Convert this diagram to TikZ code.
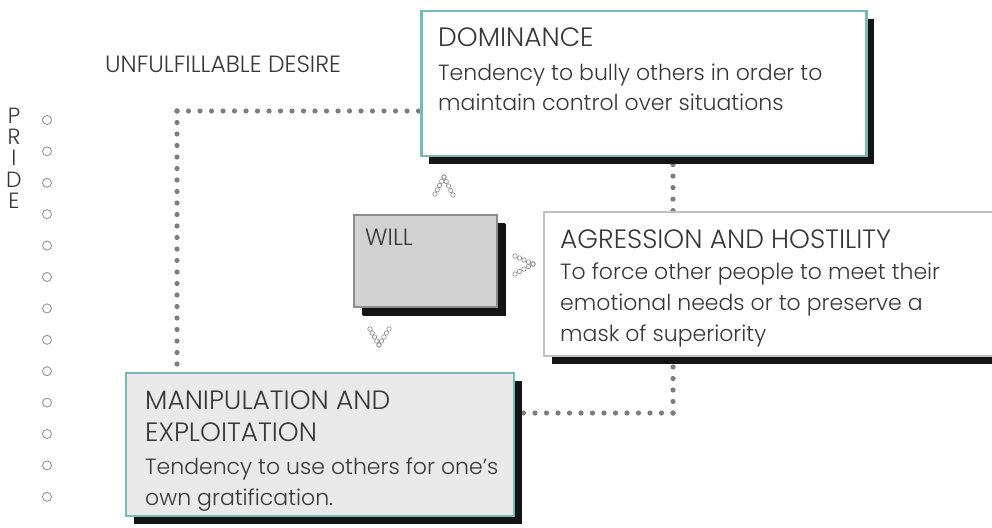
\documentclass[tikz,border=0pt]{standalone}
\usepackage{fontspec}
\IfFontExistsTF{Poppins Light}{\setmainfont{Poppins Light}}{\setmainfont{Poppins}}
\usetikzlibrary{shadows,calc,backgrounds}

\definecolor{tealedge}{RGB}{118,186,186}
\definecolor{greyedge}{RGB}{192,192,192}
\definecolor{willedge}{RGB}{140,140,140}
\definecolor{willfill}{RGB}{210,210,210}
\definecolor{manfill}{RGB}{233,233,233}
\definecolor{dotgrey}{RGB}{125,125,125}
\definecolor{ink}{RGB}{55,55,55}
\definecolor{ringgrey}{RGB}{150,150,150}

\tikzset{
  card/.style={draw, line width=2.8pt, inner sep=0pt,
    drop shadow={shadow xshift=7.5pt, shadow yshift=-8pt, fill=black!92, opacity=1}},
  head/.style={anchor=base west, inner sep=0pt, text=ink, font=\fontsize{26.5}{30}\selectfont},
  body/.style={anchor=base west, inner sep=0pt, text=ink, font=\fontsize{22}{26}\selectfont},
  small/.style={anchor=base west, inner sep=0pt, text=ink, font=\fontsize{23.5}{28}\selectfont},
  letter/.style={anchor=center, inner sep=0pt, text=ink, font=\fontsize{22}{26}\selectfont},
  dotline/.style={dotgrey, line width=5.2pt, line cap=round, dash pattern=on 0pt off 11.5pt},
  ring/.style={draw=ringgrey, line width=0.9pt},
  beadline/.style={draw=ringgrey, line width=0.7pt},
}

% chevron made of small beads: apex, end of first arm, end of second arm
\newcommand\beadarrow[3]{%
  \foreach \t in {0,0.25,0.5,0.75,1}{%
    \draw[beadline] ($(#1)!\t!(#2)$) circle (2.2pt);
    \draw[beadline] ($(#1)!\t!(#3)$) circle (2.2pt);
  }}

\begin{document}
\begin{tikzpicture}[x=1pt,y=-1pt]
\useasboundingbox (0,0) rectangle (992,527);
\clip (0,0) rectangle (992,527);

% the cards
\node[card, draw=tealedge, fill=white, minimum width=445pt, minimum height=145pt] (dom) at (644,83.5) {};
\node[card, draw=greyedge, fill=white, minimum width=456pt, minimum height=144pt] (agr) at (772,284) {};
\node[card, draw=willedge, fill=willfill, minimum width=143pt, minimum height=92pt,
      drop shadow={shadow xshift=8.5pt, shadow yshift=-9pt, fill=black!92, opacity=1}] (will) at (425.5,261) {};
\node[card, draw=tealedge, fill=manfill, minimum width=388pt, minimum height=143pt] (man) at (320,444.5) {};

% corners of the dotted connectors
\coordinate (c1) at (177,111);
\coordinate (c2) at (673,413);
\coordinate (c3) at (673,211);

% dotted connectors, kept under the cards and their shadows
\begin{scope}[on background layer]
  \draw[dotline] (c1) -- (dom.west |- c1);
  \draw[dotline] (c1) -- (c1 |- man.north);
  \draw[dotline] (c3 |- agr.north) -- (c3 |- dom.south);
  \draw[dotline] (c2) -- (c2 |- agr.south);
  \draw[dotline] (c2) -- (man.east |- c2);
\end{scope}

% texts
\node[head] (domh) at (438,47) {DOMINANCE};
\node[body] (dom1) at (438,80) {Tendency to bully others in order to};
\node[body] (dom2) at (438,110) {maintain control over situations};

\node[head] (agrh) at (560,248) {AGRESSION AND HOSTILITY};
\node[body] (agr1) at (560,279) {To force other people to meet their};
\node[body] (agr2) at (560,310) {emotional needs or to preserve a};
\node[body] (agr3) at (560,341) {mask of superiority};

\node[head] (manh1) at (145,409) {MANIPULATION AND};
\node[head] (manh2) at (145,441) {EXPLOITATION};
\node[body] (man1) at (145,474) {Tendency to use others for one’s};
\node[body] (man2) at (145,505) {own gratification.};

\node[small] (willt) at (365,245) {WILL};
\node[small] (desire) at (105,72) {UNFULFILLABLE DESIRE};

% PRIDE, written downwards
\foreach \ch/\yy [count=\i] in {P/116,R/137,I/158,D/180,E/201}
  \node[letter] (pride\i) at (14,\yy) {\ch};

% column of rings
\foreach \i in {0,...,12}
  \draw[ring] (47,{120+31.4*\i}) circle (4.5pt);

% bead arrows around WILL
\beadarrow{444,177}{435,194}{453,195}
\beadarrow{533,264}{515,256}{515,274}
\beadarrow{379,345}{370,329}{389,329}
\end{tikzpicture}
\end{document}
